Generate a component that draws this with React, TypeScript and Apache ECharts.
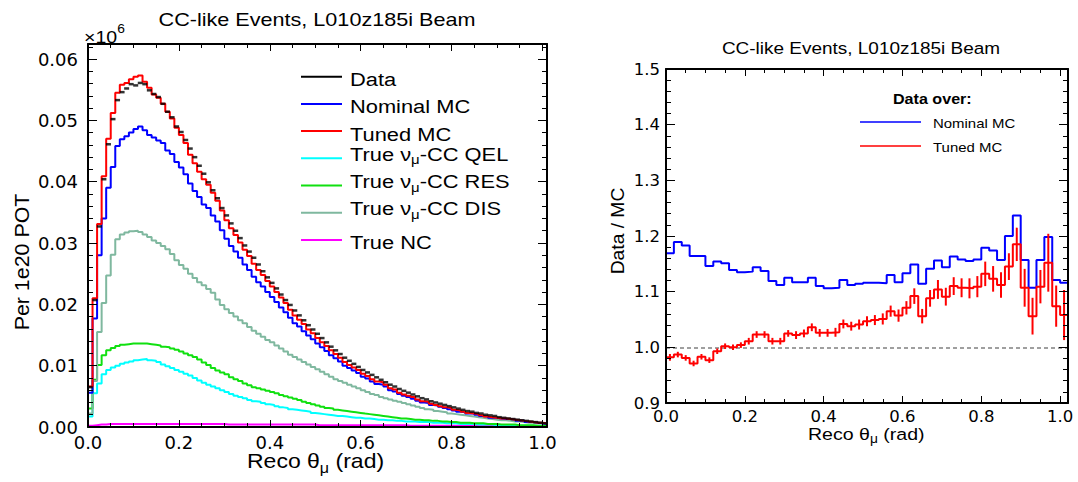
import React, { useEffect, useRef } from "react";
import * as echarts from "echarts";

// ---------------- data ----------------
const THETA_BIN = 0.01; // left histogram bin width (rad)
const RATIO_BIN = 0.02; // right ratio bin width (rad)

// Left panel: events per 1e20 POT (x10^6), 0.01 rad bins from 0 to 1.01
const dataPOT = [
  0.0065, 0.0207, 0.0327, 0.0404, 0.0461, 0.0502, 0.0533, 0.0546, 0.0552, 0.0559,
  0.0557, 0.0561, 0.0559, 0.0549, 0.0543, 0.0538, 0.0527, 0.0514, 0.0505, 0.049,
  0.0481, 0.0468, 0.0454, 0.044, 0.0426, 0.0413, 0.0399, 0.0386, 0.0373, 0.0357,
  0.0345, 0.0332, 0.032, 0.0308, 0.0296, 0.0286, 0.0276, 0.0265, 0.0254, 0.0244,
  0.0235, 0.0226, 0.0216, 0.0207, 0.0199, 0.019, 0.0182, 0.0174, 0.0166, 0.0159,
  0.0152, 0.0145, 0.0138, 0.0131, 0.0125, 0.0119, 0.0113, 0.0108, 0.0103, 0.0098,
  0.0093, 0.0089, 0.0085, 0.0081, 0.0077, 0.0073, 0.0069, 0.0066, 0.0062, 0.0059,
  0.0056, 0.0053, 0.005, 0.0047, 0.0045, 0.0042, 0.004, 0.0038, 0.0036, 0.0034,
  0.0032, 0.003, 0.0028, 0.0026, 0.0025, 0.0023, 0.0022, 0.002, 0.0019, 0.0018,
  0.0016, 0.0015, 0.0014, 0.0013, 0.0012, 0.0011, 0.001, 0.0009, 0.0008, 0.0007,
  0.0006,
];
const nominalMC = [
  0.0056, 0.0177, 0.028, 0.034, 0.039, 0.0424, 0.0458, 0.0469, 0.0474, 0.048,
  0.0486, 0.049, 0.0484, 0.0476, 0.0472, 0.0467, 0.0463, 0.0451, 0.0445, 0.0432,
  0.0423, 0.0412, 0.0397, 0.0385, 0.0375, 0.0363, 0.0357, 0.0345, 0.0335, 0.0321,
  0.0307, 0.0295, 0.0286, 0.0276, 0.0265, 0.0256, 0.0245, 0.0236, 0.0229, 0.022,
  0.0212, 0.0204, 0.0195, 0.0187, 0.0178, 0.0169, 0.0164, 0.0156, 0.0149, 0.0143,
  0.0136, 0.013, 0.0124, 0.0117, 0.0112, 0.0107, 0.01, 0.0096, 0.0092, 0.0088,
  0.0082, 0.0079, 0.0074, 0.007, 0.0069, 0.0066, 0.006, 0.0058, 0.0054, 0.0051,
  0.0049, 0.0046, 0.0043, 0.004, 0.0039, 0.0036, 0.0035, 0.0033, 0.0031, 0.0029,
  0.0027, 0.0025, 0.0024, 0.0022, 0.0022, 0.002, 0.0018, 0.0017, 0.0015, 0.0015,
  0.0014, 0.0013, 0.0013, 0.0012, 0.001, 0.001, 0.0008, 0.0008, 0.0007, 0.0006,
  0.0005,
];
const tunedMC = [
  0.0066, 0.021, 0.0331, 0.0409, 0.047, 0.0512, 0.0545, 0.0558, 0.0561, 0.0567,
  0.0571, 0.0573, 0.0563, 0.0553, 0.0542, 0.0537, 0.0527, 0.0514, 0.0503, 0.0488,
  0.0476, 0.0463, 0.0444, 0.043, 0.0416, 0.0404, 0.0395, 0.0382, 0.0369, 0.0353,
  0.0337, 0.0324, 0.0313, 0.0301, 0.0289, 0.0279, 0.0266, 0.0256, 0.0248, 0.0238,
  0.0229, 0.022, 0.0211, 0.0202, 0.0191, 0.0182, 0.0175, 0.0168, 0.0159, 0.0153,
  0.0145, 0.0138, 0.0132, 0.0125, 0.0119, 0.0113, 0.0106, 0.0101, 0.0097, 0.0093,
  0.0087, 0.0083, 0.0078, 0.0074, 0.0073, 0.0069, 0.0063, 0.0061, 0.0056, 0.0053,
  0.0051, 0.0049, 0.0045, 0.0042, 0.0041, 0.0038, 0.0036, 0.0034, 0.0032, 0.0031,
  0.0028, 0.0027, 0.0025, 0.0023, 0.0022, 0.0021, 0.0019, 0.0017, 0.0016, 0.0015,
  0.0014, 0.0014, 0.0013, 0.0012, 0.0011, 0.001, 0.0009, 0.0008, 0.0007, 0.0007,
  0.0006,
];
const trueQEL = [
  0.0017, 0.0055, 0.0071, 0.0086, 0.0093, 0.0097, 0.01, 0.0103, 0.0105, 0.0107,
  0.0109, 0.011, 0.0111, 0.0109, 0.0108, 0.0106, 0.0102, 0.0099, 0.0096, 0.0093,
  0.009, 0.0087, 0.0084, 0.008, 0.0076, 0.0072, 0.0069, 0.0066, 0.0063, 0.006,
  0.0057, 0.0054, 0.0051, 0.0049, 0.0047, 0.0044, 0.0042, 0.0041, 0.0039, 0.0037,
  0.0036, 0.0034, 0.0032, 0.0031, 0.0029, 0.0028, 0.0027, 0.0026, 0.0025, 0.0023,
  0.0022, 0.0021, 0.002, 0.0019, 0.0018, 0.0018, 0.0017, 0.0016, 0.0015, 0.0015,
  0.0014, 0.0014, 0.0013, 0.0012, 0.0012, 0.0011, 0.0011, 0.001, 0.001, 0.0009,
  0.0009, 0.0009, 0.0008, 0.0008, 0.0008, 0.0007, 0.0007, 0.0007, 0.0006, 0.0006,
  0.0006, 0.0005, 0.0005, 0.0005, 0.0005, 0.0004, 0.0004, 0.0004, 0.0004, 0.0003,
  0.0003, 0.0003, 0.0003, 0.0003, 0.0002, 0.0002, 0.0002, 0.0002, 0.0002, 0.0002,
  0.0001,
];
const trueRES = [
  0.003, 0.0077, 0.0101, 0.0117, 0.0125, 0.0129, 0.0132, 0.0134, 0.0135, 0.0136,
  0.0136, 0.0136, 0.0136, 0.0135, 0.0134, 0.0133, 0.0131, 0.013, 0.0128, 0.0126,
  0.0123, 0.012, 0.0117, 0.0114, 0.011, 0.0105, 0.0101, 0.0096, 0.0092, 0.0089,
  0.0086, 0.0081, 0.0078, 0.0075, 0.0071, 0.0068, 0.0065, 0.0063, 0.0061, 0.0059,
  0.0057, 0.0055, 0.0052, 0.005, 0.0048, 0.0046, 0.0044, 0.0041, 0.0039, 0.0037,
  0.0035, 0.0033, 0.0031, 0.003, 0.0028, 0.0027, 0.0026, 0.0025, 0.0024, 0.0023,
  0.0022, 0.0021, 0.002, 0.0019, 0.0018, 0.0017, 0.0016, 0.0015, 0.0014, 0.0014,
  0.0013, 0.0012, 0.0012, 0.0011, 0.0011, 0.001, 0.001, 0.0009, 0.0009, 0.0008,
  0.0008, 0.0007, 0.0007, 0.0007, 0.0006, 0.0006, 0.0006, 0.0005, 0.0005, 0.0005,
  0.0004, 0.0004, 0.0004, 0.0004, 0.0003, 0.0003, 0.0003, 0.0003, 0.0002, 0.0002,
  0.0002,
];
const trueDIS = [
  0.0022, 0.0075, 0.0155, 0.0202, 0.0247, 0.0281, 0.0306, 0.0314, 0.0317, 0.0319,
  0.032, 0.0318, 0.0314, 0.031, 0.0304, 0.03, 0.0295, 0.029, 0.0282, 0.0272,
  0.0264, 0.0258, 0.025, 0.0243, 0.0236, 0.0231, 0.0225, 0.0219, 0.0208, 0.0199,
  0.0192, 0.0186, 0.018, 0.0174, 0.0169, 0.0163, 0.0157, 0.0152, 0.0147, 0.0142,
  0.0138, 0.0133, 0.0128, 0.0123, 0.0118, 0.0114, 0.011, 0.0106, 0.0102, 0.0098,
  0.0094, 0.009, 0.0086, 0.0082, 0.0078, 0.0075, 0.0072, 0.0069, 0.0066, 0.0063,
  0.006, 0.0057, 0.0054, 0.0052, 0.0049, 0.0047, 0.0045, 0.0043, 0.0041, 0.0039,
  0.0037, 0.0035, 0.0033, 0.0031, 0.0029, 0.0028, 0.0026, 0.0025, 0.0024, 0.0022,
  0.0021, 0.002, 0.0019, 0.0018, 0.0017, 0.0016, 0.0015, 0.0014, 0.0013, 0.0012,
  0.0011, 0.0011, 0.001, 0.0009, 0.0009, 0.0008, 0.0007, 0.0007, 0.0006, 0.0006,
  0.0005,
];
const trueNC = [
  0.0002, 0.0003, 0.0004, 0.0004, 0.0005, 0.0005, 0.0005, 0.0005, 0.0005, 0.0005,
  0.0005, 0.0005, 0.0005, 0.0005, 0.0005, 0.0005, 0.0005, 0.0005, 0.0005, 0.0005,
  0.0005, 0.0005, 0.0005, 0.0005, 0.0005, 0.0005, 0.0005, 0.0005, 0.0005, 0.0005,
  0.0004, 0.0004, 0.0004, 0.0004, 0.0004, 0.0004, 0.0004, 0.0004, 0.0004, 0.0004,
  0.0004, 0.0004, 0.0004, 0.0004, 0.0004, 0.0004, 0.0004, 0.0004, 0.0004, 0.0004,
  0.0003, 0.0003, 0.0003, 0.0003, 0.0003, 0.0003, 0.0003, 0.0003, 0.0003, 0.0003,
  0.0003, 0.0003, 0.0003, 0.0003, 0.0003, 0.0003, 0.0003, 0.0003, 0.0003, 0.0003,
  0.0002, 0.0002, 0.0002, 0.0002, 0.0002, 0.0002, 0.0002, 0.0002, 0.0002, 0.0002,
  0.0002, 0.0002, 0.0002, 0.0002, 0.0002, 0.0002, 0.0002, 0.0002, 0.0002, 0.0002,
  0.0001, 0.0001, 0.0001, 0.0001, 0.0001, 0.0001, 0.0001, 0.0001, 0.0001, 0.0001,
  0.0001,
];

// Right panel: data / MC, 0.02 rad bins from 0 to 1.02
const ratioNominal = [
  1.169, 1.189, 1.183, 1.164, 1.164, 1.146, 1.154, 1.151, 1.139, 1.135,
  1.136, 1.144, 1.137, 1.119, 1.112, 1.125, 1.117, 1.117, 1.125, 1.11,
  1.106, 1.107, 1.121, 1.112, 1.114, 1.116, 1.116, 1.115, 1.13, 1.117,
  1.133, 1.149, 1.114, 1.141, 1.156, 1.144, 1.163, 1.158, 1.155, 1.158,
  1.179, 1.174, 1.157, 1.2, 1.237, 1.157, 1.107, 1.157, 1.198, 1.121,
  1.116,
];
const ratioTuned = [
  0.982, 0.987, 0.981, 0.971, 0.983, 0.977, 0.993, 1.002, 1.0, 1.004,
  1.011, 1.023, 1.023, 1.011, 1.011, 1.025, 1.022, 1.025, 1.036, 1.026,
  1.026, 1.027, 1.042, 1.038, 1.041, 1.047, 1.049, 1.051, 1.065, 1.057,
  1.071, 1.092, 1.056, 1.088, 1.104, 1.091, 1.11, 1.107, 1.106, 1.109,
  1.132, 1.123, 1.112, 1.145, 1.185, 1.107, 1.056, 1.109, 1.152, 1.074,
  1.058,
];
const ratioTunedErr = [
  0.006, 0.005, 0.005, 0.005, 0.005, 0.005, 0.005, 0.005, 0.005, 0.005,
  0.006, 0.006, 0.006, 0.006, 0.006, 0.006, 0.007, 0.007, 0.007, 0.007,
  0.007, 0.008, 0.008, 0.008, 0.009, 0.009, 0.009, 0.01, 0.01, 0.011,
  0.012, 0.014, 0.013, 0.015, 0.017, 0.016, 0.016, 0.017, 0.018, 0.019,
  0.022, 0.023, 0.023, 0.024, 0.03, 0.034, 0.033, 0.03, 0.052, 0.037,
  0.045,
];

const TITLE = "CC-like Events, L010z185i Beam";
const legendLeft = [
  { label: "Data", color: "#000000" },
  { label: "Nominal MC", color: "#0000ff" },
  { label: "Tuned MC", color: "#ff0000" },
  { label: "True ν{s|μ}-CC QEL", color: "#00ffff" },
  { label: "True ν{s|μ}-CC RES", color: "#10e010" },
  { label: "True ν{s|μ}-CC DIS", color: "#7fb89f" },
  { label: "True NC", color: "#ff00ff" },
];

// ---------------- helpers ----------------
const FONT = "Liberation Sans, Arial, Helvetica, sans-serif";
const LABEL_FONT = "DejaVu Sans, sans-serif";
const SX = 1.15;

function histPoints(vals: number[], w: number) {
  const pts = vals.map((v, i) => [+(i * w).toFixed(4), v]);
  pts.push([+(vals.length * w).toFixed(4), vals[vals.length - 1]]);
  return pts;
}

const onStep = (v: number, step: number, dec: number) =>
  Math.abs(v / step - Math.round(v / step)) < 1e-6 ? v.toFixed(dec) : "";

function mkAxis(o: {
  grid: number; pos: string; min: number; max: number; interval: number;
  tickLen: number; line: boolean; label?: any;
}) {
  return {
    type: "value",
    gridIndex: o.grid,
    position: o.pos,
    min: o.min,
    max: o.max,
    interval: o.interval,
    axisLine: { show: o.line, onZero: false, lineStyle: { color: "#000", width: 2 } },
    axisTick: { show: true, inside: true, length: o.tickLen, lineStyle: { color: "#000", width: 1 } },
    minorTick: { show: false },
    splitLine: { show: false },
    minorSplitLine: { show: false },
    axisLabel: o.label ? o.label : { show: false },
    silent: true,
    z: 10,
  };
}

function histSeries(vals: number[], w: number, color: string, xi: number, yi: number, z: number) {
  return {
    type: "line",
    xAxisIndex: xi,
    yAxisIndex: yi,
    data: histPoints(vals, w),
    step: "end",
    symbol: "none",
    lineStyle: { color, width: 2 },
    itemStyle: { color },
    silent: true,
    z,
  };
}

function txt(text: string, x: number, y: number, size: number, o: any = {}) {
  const align = o.align || "left";
  const va = o.va || "middle";
  return {
    type: "text",
    x,
    y,
    scaleX: o.scaleX ?? SX,
    rotation: o.rot || 0,
    silent: true,
    z: 100,
    style: {
      text,
      fill: "#000",
      fontFamily: FONT,
      fontSize: size,
      fontWeight: o.bold ? "bold" : "normal",
      align,
      textAlign: align,
      verticalAlign: va,
      textVerticalAlign: va,
      rich: o.rich,
    },
  };
}

const subRich = (main: number, sub: number, lh: number, subLh: number) => ({
  n: { fontFamily: FONT, fontSize: main, lineHeight: lh, verticalAlign: "top", fill: "#000" },
  s: { fontFamily: FONT, fontSize: sub, lineHeight: subLh, verticalAlign: "bottom", fill: "#000" },
});

function buildOption() {
  // grid geometry
  const GL = { left: 88, top: 44, width: 459, height: 383 };
  const GR = { left: 666, top: 69, width: 402, height: 334 };
  const LX = { min: 0, max: 1.01 };
  const LY = { min: 0, max: 0.06245 };
  const RX = { min: 0, max: 1.02 };
  const RY = { min: 0.9, max: 1.5 };

  const lblLX = {
    show: true, margin: 6, fontFamily: LABEL_FONT, fontSize: 18, color: "#000",
    showMaxLabel: false, formatter: (v: number) => onStep(v, 0.2, 1),
  };
  const lblLY = {
    show: true, margin: 10, fontFamily: LABEL_FONT, fontSize: 18, color: "#000",
    showMaxLabel: false, formatter: (v: number) => onStep(v, 0.01, 2),
  };
  const lblRX = {
    show: true, margin: 5, fontFamily: LABEL_FONT, fontSize: 16.5, color: "#000",
    showMaxLabel: false, formatter: (v: number) => onStep(v, 0.2, 1),
  };
  const lblRY = {
    show: true, margin: 6, fontFamily: LABEL_FONT, fontSize: 16.5, color: "#000",
    formatter: (v: number) => onStep(v, 0.1, 1),
  };

  const xAxis = [
    mkAxis({ grid: 0, pos: "bottom", ...LX, interval: 0.2, tickLen: 7, line: true, label: lblLX }),
    mkAxis({ grid: 0, pos: "bottom", ...LX, interval: 0.05, tickLen: 4, line: false }),
    mkAxis({ grid: 0, pos: "top", ...LX, interval: 0.2, tickLen: 7, line: true }),
    mkAxis({ grid: 0, pos: "top", ...LX, interval: 0.05, tickLen: 4, line: false }),
    mkAxis({ grid: 1, pos: "bottom", ...RX, interval: 0.2, tickLen: 7, line: true, label: lblRX }),
    mkAxis({ grid: 1, pos: "bottom", ...RX, interval: 0.05, tickLen: 4, line: false }),
    mkAxis({ grid: 1, pos: "top", ...RX, interval: 0.2, tickLen: 7, line: true }),
    mkAxis({ grid: 1, pos: "top", ...RX, interval: 0.05, tickLen: 4, line: false }),
  ];
  const yAxis = [
    mkAxis({ grid: 0, pos: "left", ...LY, interval: 0.01, tickLen: 9, line: true, label: lblLY }),
    mkAxis({ grid: 0, pos: "left", ...LY, interval: 0.002, tickLen: 5, line: false }),
    mkAxis({ grid: 0, pos: "right", ...LY, interval: 0.01, tickLen: 9, line: true }),
    mkAxis({ grid: 0, pos: "right", ...LY, interval: 0.002, tickLen: 5, line: false }),
    mkAxis({ grid: 1, pos: "left", ...RY, interval: 0.1, tickLen: 9, line: true, label: lblRY }),
    mkAxis({ grid: 1, pos: "left", ...RY, interval: 0.02, tickLen: 5, line: false }),
    mkAxis({ grid: 1, pos: "right", ...RY, interval: 0.1, tickLen: 9, line: true }),
    mkAxis({ grid: 1, pos: "right", ...RY, interval: 0.02, tickLen: 5, line: false }),
  ];

  const series: any[] = [
    histSeries(trueNC, THETA_BIN, "#ff00ff", 0, 0, 2),
    histSeries(trueQEL, THETA_BIN, "#00ffff", 0, 0, 3),
    histSeries(trueRES, THETA_BIN, "#10e010", 0, 0, 3),
    histSeries(trueDIS, THETA_BIN, "#7fb89f", 0, 0, 3),
    histSeries(nominalMC, THETA_BIN, "#0000ff", 0, 0, 4),
    histSeries(tunedMC, THETA_BIN, "#ff0000", 0, 0, 5),
    {
      type: "scatter",
      xAxisIndex: 0,
      yAxisIndex: 0,
      data: dataPOT.map((v, i) => [+((i + 0.5) * THETA_BIN).toFixed(4), v]),
      symbol: "rect",
      symbolSize: [5, 2.5],
      itemStyle: { color: "#000" },
      silent: true,
      z: 6,
    },
    {
      ...histSeries(ratioNominal, RATIO_BIN, "#0000ff", 4, 4, 4),
      markLine: {
        silent: true,
        symbol: ["none", "none"],
        label: { show: false },
        lineStyle: { color: "#808080", type: [4, 3], width: 1.5 },
        data: [{ yAxis: 1 }],
      },
    },
    histSeries(ratioTuned, RATIO_BIN, "#ff0000", 4, 4, 5),
    {
      type: "custom",
      xAxisIndex: 4,
      yAxisIndex: 4,
      silent: true,
      z: 5,
      data: ratioTuned.map((v, i) => [
        +((i + 0.5) * RATIO_BIN).toFixed(4),
        v - ratioTunedErr[i],
        v + ratioTunedErr[i],
      ]),
      encode: { x: 0, y: [1, 2] },
      renderItem: (_p: any, api: any) => {
        const x = api.value(0);
        const lo = api.coord([x, api.value(1)]);
        const hi = api.coord([x, api.value(2)]);
        return {
          type: "line",
          shape: { x1: lo[0], y1: lo[1], x2: hi[0], y2: hi[1] },
          style: { stroke: "#ff0000", lineWidth: 2 },
        };
      },
    },
  ];

  // legend (left)
  const lineY0 = 76.7;
  const lineDY = 27.2;
  const graphic: any[] = [];
  legendLeft.forEach((it, i) => {
    const ly = lineY0 + i * lineDY;
    graphic.push({
      type: "line",
      silent: true,
      z: 100,
      shape: { x1: 301, y1: ly, x2: 342, y2: ly },
      style: { stroke: it.color, lineWidth: 2 },
    });
    if (it.label.includes("{s|")) {
      const parts = it.label.split("{s|μ}");
      graphic.push(
        txt(`{n|${parts[0]}}{s|μ}{n|${parts[1]}}`, 350, ly - 3 - 11, 19, {
          va: "top",
          rich: subRich(19, 13, 22, 12),
        })
      );
    } else {
      graphic.push(txt(it.label, 350, ly + 2.5, 19));
    }
  });

  // titles
  graphic.push(txt(TITLE, 317, 20, 18, { align: "center", scaleX: 1.2 }));
  graphic.push(txt(TITLE, 861, 48, 16.5, { align: "center" }));

  // x10^6 multiplier
  graphic.push(
    txt("{a|×10}{b|6}", 84, 23, 17, {
      va: "top",
      rich: {
        a: { fontFamily: FONT, fontSize: 17, lineHeight: 22, verticalAlign: "bottom", fill: "#000" },
        b: { fontFamily: FONT, fontSize: 12, lineHeight: 11, verticalAlign: "top", fill: "#000" },
      },
    })
  );

  // axis titles
  graphic.push(txt("Per 1e20 POT", 22, 262, 20, { align: "center", rot: Math.PI / 2, scaleX: 1.07 }));
  graphic.push(txt("Data / MC", 618, 231, 18, { align: "center", rot: Math.PI / 2, scaleX: 1.07 }));
  graphic.push(
    txt("{n|Reco θ}{s|μ}{n| (rad)}", 247, 463 - 12, 20, {
      va: "top",
      rich: subRich(20, 14, 24, 13),
    })
  );
  graphic.push(
    txt("{n|Reco θ}{s|μ}{n| (rad)}", 808, 435 - 10, 17, {
      va: "top",
      rich: subRich(17, 12, 20, 11),
    })
  );

  // right legend
  graphic.push(txt("Data over:", 893, 99, 14, { bold: true }));
  graphic.push({
    type: "line", silent: true, z: 100,
    shape: { x1: 860, y1: 122, x2: 921, y2: 122 },
    style: { stroke: "#0000ff", lineWidth: 1.5 },
  });
  graphic.push(txt("Nominal MC", 933, 123, 13));
  graphic.push({
    type: "line", silent: true, z: 100,
    shape: { x1: 860, y1: 146, x2: 921, y2: 146 },
    style: { stroke: "#ff0000", lineWidth: 1.5 },
  });
  graphic.push(txt("Tuned MC", 933, 147, 13));

  return {
    animation: false,
    backgroundColor: "#ffffff",
    grid: [
      { ...GL, containLabel: false, outerBoundsMode: "none" },
      { ...GR, containLabel: false, outerBoundsMode: "none" },
    ],
    xAxis,
    yAxis,
    series,
    graphic,
  };
}

export default function App() {
  const ref = useRef<HTMLDivElement>(null);
  useEffect(() => {
    if (!ref.current) return;
    const chart = echarts.init(ref.current, null, { renderer: "svg" });
    chart.setOption(buildOption() as any);
    return () => {
      chart.dispose();
    };
  }, []);
  return (
    <div
      ref={ref}
      style={{ position: "absolute", left: 0, top: 0, width: 1078, height: 482, background: "#fff" }}
    />
  );
}
